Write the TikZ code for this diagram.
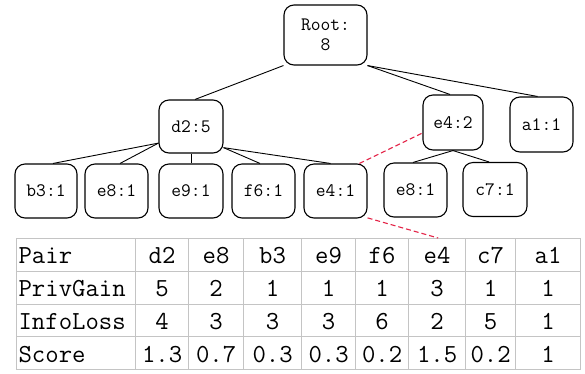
\documentclass[tikz,border=0pt]{standalone}
\usepackage{fontspec}
\usetikzlibrary{calc}
\definecolor{gridgray}{RGB}{196,196,196}
\definecolor{linkred}{RGB}{228,36,72}
\begin{document}
\begin{tikzpicture}[x=1pt,y=-1pt,
  treenode/.style={draw, line width=1.1pt, rounded corners=10pt,
    font=\fontsize{19}{20}\ttfamily, align=center, inner sep=0pt,
    minimum width=63pt, minimum height=54pt},
  branch/.style={line width=0.9pt},
  crosslink/.style={linkred, dash pattern=on 5pt off 3pt, line width=1.1pt},
  cell/.style={draw=gridgray, line width=1.2pt, font=\fontsize{26}{28}\ttfamily,
    inner sep=0pt, anchor=north west, minimum height=32.75pt,
    text height=20pt, text depth=2pt}]

\useasboundingbox[fill=white] (0,0) rectangle (585,373);

% ---- tree nodes ----
\node[treenode, minimum width=83pt, minimum height=60pt] (root) at (325.5,35) {Root:\\8};
\node[treenode, minimum width=64pt, minimum height=53pt] (d2) at (191,126.5) {d2:5};
\node[treenode, minimum width=60pt, minimum height=55pt] (e4top) at (453,122.5) {e4:2};
\node[treenode, minimum width=63pt, minimum height=55pt] (a1) at (541.5,124.5) {a1:1};

\node[treenode, minimum width=62pt] (b3) at (46,191) {b3:1};
\node[treenode] (e8a) at (116.5,191) {e8:1};
\node[treenode, minimum width=64pt] (e9) at (191,191) {e9:1};
\node[treenode] (f6) at (263.5,191) {f6:1};
\node[treenode] (e4low) at (335.5,191) {e4:1};
\node[treenode] (e8b) at (415.5,190) {e8:1};
\node[treenode, minimum width=64pt] (c7) at (495,189.5) {c7:1};

% ---- tree branches ----
\draw[branch] (root.south west) -- ([xshift=4pt]d2.north);
\draw[branch] (root.south east) -- ([xshift=-3pt]e4top.north);
\draw[branch] (root.south east) -- ([xshift=-4pt]a1.north);

\draw[branch] (d2.207) -- ([xshift=7pt]b3.north);
\draw[branch] (d2.207) -- ([xshift=3.5pt]e8a.north);
\draw[branch] (d2.south) -- (e9.north);
\draw[branch] (d2.-33) -- ([xshift=-3.5pt]f6.north);
\draw[branch] (d2.-33) -- ([xshift=-5pt]e4low.north);

\draw[branch] (e4top.south) -- ([xshift=-2.5pt]e8b.north);
\draw[branch] (e4top.south) -- ([xshift=-6pt]c7.north);

% ---- table ----
\node[cell, minimum width=119pt, text width=115pt, align=left, inner xsep=2pt]
  (r1) at (16,238) {Pair};
\node[cell, minimum width=119pt, text width=115pt, align=left, inner xsep=2pt]
  (r2) at (16,270.75) {PrivGain};
\node[cell, minimum width=119pt, text width=115pt, align=left, inner xsep=2pt]
  (r3) at (16,303.5) {InfoLoss};
\node[cell, minimum width=119pt, text width=115pt, align=left, inner xsep=2pt]
  (r4) at (16,336.25) {Score};

\foreach \c/\x/\w/\g/\l/\s in {
    d2/135/53/5/4/1.3, e8/188/55/2/3/0.7, b3/243/58/1/3/0.3,
    e9/301/54/1/3/0.3, f6/355/53/1/6/0.2, e4/408/57/3/2/1.5,
    c7/465/50/1/5/0.2, a1/515/65/1/1/1}{
  \node[cell, minimum width=\w pt] (h-\c) at (\x,238) {\c};
  \node[cell, minimum width=\w pt] (g-\c) at (\x,270.75) {\g};
  \node[cell, minimum width=\w pt] (l-\c) at (\x,303.5) {\l};
  \node[cell, minimum width=\w pt] (s-\c) at (\x,336.25) {\s};
}

% ---- red links of the e4 pair ----
\draw[crosslink] (e4low.49) -- (e4top.199);
\draw[crosslink] (e4low.-40) -- ([xshift=1pt]h-e4.north);

\end{tikzpicture}
\end{document}
